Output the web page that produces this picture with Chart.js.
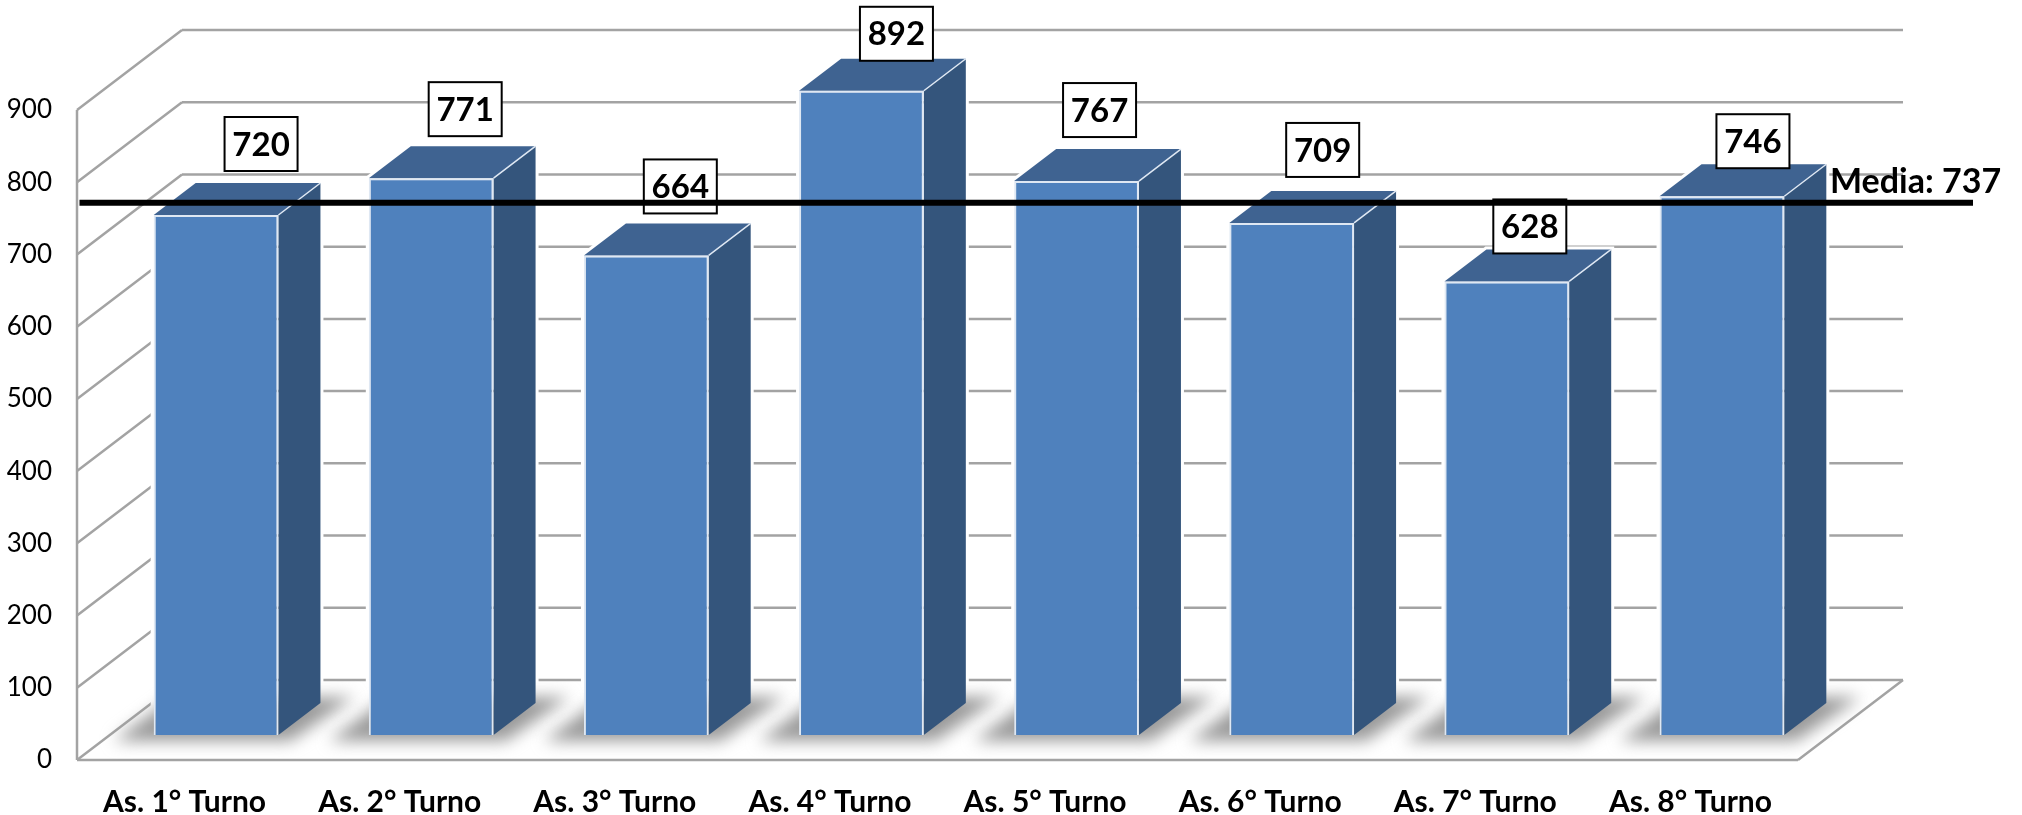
<!DOCTYPE html>
<html lang="it">
<head>
    <meta charset="UTF-8">
    <title>Media Turni</title>
    <script src="https://cdn.jsdelivr.net/npm/chart.js"></script>
    <style>
        html, body { margin: 0; padding: 0; background: #fff; }
        canvas { display: block; }
    </style>
</head>
<body>
    <canvas id="turniChart" width="2022" height="815"></canvas>
    <script>
        const categories = ['As. 1° Turno', 'As. 2° Turno', 'As. 3° Turno', 'As. 4° Turno', 'As. 5° Turno', 'As. 6° Turno', 'As. 7° Turno', 'As. 8° Turno'];
        const values = [720, 771, 664, 892, 767, 709, 628, 746];
        const yTicks = [0, 100, 200, 300, 400, 500, 600, 700, 800, 900];
        const mediaValue = 737;
        const mediaLabel = 'Media: 737';

        // prospettiva finta: profondita del pavimento e posizione delle barre dentro
        const wallDx = 105, wallDy = -80;
        const barDx = 31.5, barDy = -25;
        const sideDx = 42, sideDy = -32;

        // spostamento a mano delle etichette rispetto alla cima della barra
        const labelNudgeX = [45, 34, 34, 35, 23, 31, 23, 31];
        const labelNudgeY = [-71, -69, -69, -57, -71, -73, -55, -55];

        const gridColor = '#a3a3a3';
        const topColor = '#3f6391';
        const sideColor = '#34557c';
        const edgeColor = '#dfe8f3';

        function poly(ctx, pts) {
            ctx.beginPath();
            pts.forEach((p, i) => i ? ctx.lineTo(p[0], p[1]) : ctx.moveTo(p[0], p[1]));
            ctx.closePath();
        }

        function line(ctx, x1, y1, x2, y2) {
            ctx.beginPath();
            ctx.moveTo(x1, y1);
            ctx.lineTo(x2, y2);
            ctx.stroke();
        }

        // pareti e griglia, dietro le barre
        const wallsPlugin = {
            id: 'walls',
            beforeDatasetsDraw(chart) {
                const ctx = chart.ctx, y = chart.scales.y, area = chart.chartArea;
                ctx.save();
                ctx.strokeStyle = gridColor;
                ctx.lineWidth = 2.5;
                yTicks.forEach(v => {
                    const py = y.getPixelForValue(v);
                    line(ctx, area.left, py, area.left + wallDx, py + wallDy);
                    line(ctx, area.left + wallDx, py + wallDy, area.right + wallDx, py + wallDy);
                });
                line(ctx, area.left, area.top, area.left, area.bottom);
                line(ctx, area.left, area.bottom, area.right, area.bottom);
                line(ctx, area.right, area.bottom, area.right + wallDx, area.bottom + wallDy);
                ctx.restore();
            }
        };

        // ombra, fianco e tetto di ogni barra; la faccia la disegna Chart.js spostata
        const prismPlugin = {
            id: 'prism',
            beforeDatasetDraw(chart, args) {
                const ctx = chart.ctx;
                const bars = args.meta.data.map(b => ({
                    x0: b.x - b.width / 2 + barDx,
                    x1: b.x + b.width / 2 + barDx,
                    top: b.y + barDy,
                    base: b.base + barDy
                }));
                ctx.save();
                bars.forEach(b => {
                    ctx.strokeStyle = '#fff';
                    ctx.lineWidth = 6;
                    poly(ctx, [[b.x0, b.base], [b.x0, b.top], [b.x0 + sideDx, b.top + sideDy], [b.x1 + sideDx, b.top + sideDy], [b.x1 + sideDx, b.base + sideDy], [b.x1, b.base]]);
                    ctx.stroke();
                });
                ctx.filter = 'blur(8px)';
                ctx.fillStyle = '#9a9a9a';
                bars.forEach(b => {
                    poly(ctx, [[b.x0 - 40, b.base + 6], [b.x1 + 12, b.base + 6], [b.x1 + 76, b.base - 38], [b.x0 + 20, b.base - 38]]);
                    ctx.fill();
                });
                ctx.filter = 'none';
                ctx.strokeStyle = edgeColor;
                ctx.lineWidth = 1.5;
                bars.forEach(b => {
                    ctx.fillStyle = sideColor;
                    poly(ctx, [[b.x1, b.top], [b.x1 + sideDx, b.top + sideDy], [b.x1 + sideDx, b.base + sideDy], [b.x1, b.base]]);
                    ctx.fill();
                    ctx.fillStyle = topColor;
                    poly(ctx, [[b.x0, b.top], [b.x0 + sideDx, b.top + sideDy], [b.x1 + sideDx, b.top + sideDy], [b.x1, b.top]]);
                    ctx.fill();
                    line(ctx, b.x1, b.top, b.x1 + sideDx, b.top + sideDy);
                });
                ctx.restore();
                ctx.save();
                ctx.translate(barDx, barDy);
            },
            afterDatasetDraw(chart) {
                chart.ctx.restore();
            }
        };

        // etichette nei riquadri e linea della media
        const labelsPlugin = {
            id: 'labels',
            afterDatasetsDraw(chart) {
                const ctx = chart.ctx;
                const bars = chart.getDatasetMeta(0).data;
                ctx.save();
                ctx.font = 'bold 33px Lato';
                ctx.textAlign = 'center';
                ctx.textBaseline = 'middle';
                bars.forEach((b, i) => {
                    const cx = b.x + barDx + labelNudgeX[i];
                    const cy = b.y + barDy + labelNudgeY[i];
                    ctx.fillStyle = '#fff';
                    ctx.fillRect(cx - 36.5, cy - 27, 73, 54);
                    ctx.strokeStyle = '#000';
                    ctx.lineWidth = 2;
                    ctx.strokeRect(cx - 36.5, cy - 27, 73, 54);
                    ctx.fillStyle = '#000';
                    ctx.fillText(values[i], cx, cy + 1);
                });
                const my = chart.scales.y.getPixelForValue(mediaValue) + barDy;
                ctx.strokeStyle = '#000';
                ctx.lineWidth = 6;
                line(ctx, 79.5, my, 1973, my);
                ctx.textAlign = 'left';
                ctx.fillStyle = '#000';
                ctx.font = 'bold 34px Lato';
                ctx.fillText(mediaLabel, 1830, my - 21);
                ctx.restore();
            }
        };

        new Chart(document.getElementById('turniChart'), {
            type: 'bar',
            data: {
                labels: categories,
                datasets: [{
                    data: values,
                    backgroundColor: '#4f81bd',
                    borderColor: edgeColor,
                    borderWidth: 2,
                    barPercentage: 0.58,
                    categoryPercentage: 1,
                    clip: false
                }]
            },
            plugins: [wallsPlugin, prismPlugin, labelsPlugin],
            options: {
                responsive: false,
                animation: false,
                devicePixelRatio: 1,
                layout: { padding: { top: 110, right: 224, left: 0, bottom: 0 } },
                plugins: { legend: { display: false }, tooltip: { enabled: false } },
                scales: {
                    x: {
                        grid: { display: false },
                        border: { display: false },
                        afterFit: s => { s.height = 55; },
                        ticks: { color: '#000', maxRotation: 0, padding: 16, font: { family: 'Lato', size: 30, weight: 'bold' } }
                    },
                    y: {
                        min: 0,
                        max: 900,
                        grid: { display: false },
                        border: { display: false },
                        afterBuildTicks: s => { s.ticks = yTicks.map(v => ({ value: v })); },
                        afterFit: s => { s.width = 77; },
                        ticks: { color: '#000', padding: 17, font: { family: 'Lato', size: 26 } }
                    }
                }
            }
        });
    </script>
</body>
</html>
